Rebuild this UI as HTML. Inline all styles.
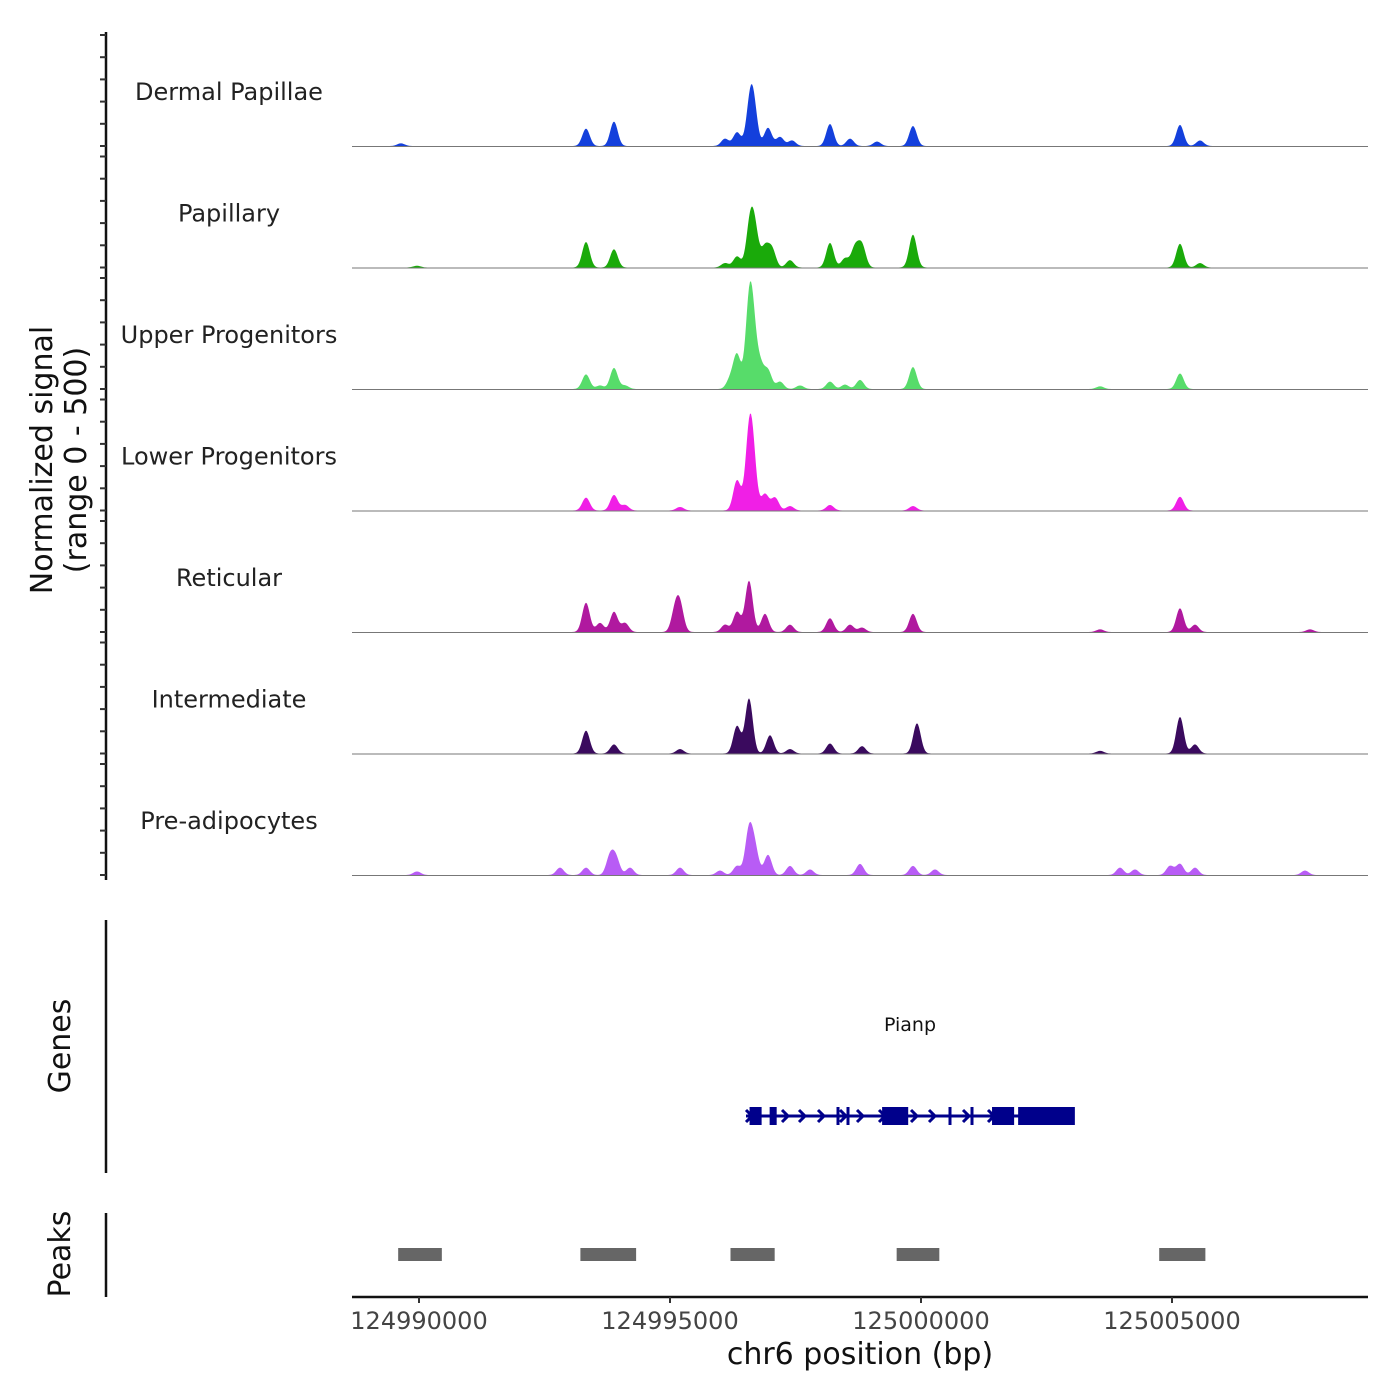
<!DOCTYPE html>
<html><head><meta charset="utf-8"><style>
html,body{margin:0;padding:0;background:#fff;width:1400px;height:1400px;overflow:hidden}
svg{display:block;font-family:"DejaVu Sans","Liberation Sans",sans-serif}
</style></head><body>
<svg id="chart" width="1400" height="1400" viewBox="0 0 1400 1400">
<g id="tracks"></g>
<g id="axes"></g>
<g id="genes"></g>
<g id="peaks"></g>
</svg>
<script>
const trackNames = ["Dermal Papillae","Papillary","Upper Progenitors","Lower Progenitors","Reticular","Intermediate","Pre-adipocytes"];
const trackColors = ["#1440dc","#1aaa0a","#57dc6a","#f01fe6","#b0199f","#3a0a5e","#b85cf5"];
const xTicks = [124990000,124995000,125000000,125005000];
const posDP = [124989641,124993327,124993884,124996096,124996335,124996594,124996673,124996952,124997191,124997430,124998187,124998586,124999123,124999840,125005159,125005558];
const valDP = [12,78,110,33,62,180,140,82,41,25,99,33,20,90,95,25];
const posPA = [124989960,124993327,124993884,124996096,124996335,124996594,124996693,124996892,124997032,124997390,124998187,124998486,124998685,124998825,124999840,125005159,125005558,125013466];
const valPA = [8,115,82,20,50,190,150,90,82,33,111,41,90,99,148,107,20,12];
const posUP = [124993327,124993606,124993884,124994104,124996195,124996335,124996574,124996653,124996793,124996952,124997191,124997590,124998187,124998486,124998785,124999840,125005159,125003566];
const valUP = [66,16,95,16,41,153,330,220,103,82,33,16,33,20,41,99,70,12];
const posLP = [124993327,124993884,124994104,124995199,124996335,124996574,124996653,124996892,124997092,124997390,124998187,124999840,125005159];
const valLP = [58,70,25,16,136,300,200,74,58,20,25,20,62];
const posRE = [124993327,124993606,124993884,124994104,124995100,124995199,124996096,124996335,124996574,124996892,124997390,124998187,124998586,124998825,124999840,125005159,125005458,125007749,125003566];
const valRE = [132,41,91,41,91,115,33,91,231,82,33,62,33,20,82,107,33,12,12];
const posIN = [124993327,124993884,124995199,124996335,124996574,124996992,124997390,124998187,124998825,124999920,125005159,125005458,125003566];
const valIN = [103,41,20,124,248,82,20,45,33,136,165,41,12];
const posPR = [124989960,124992809,124993327,124993805,124993924,124994203,124995199,124995996,124996335,124996574,124996693,124996952,124997390,124997789,124998785,124999840,125000279,125003964,125004263,125004960,125005159,125005458,125007649];
const valPR = [16,33,33,83,74,33,33,20,41,200,110,91,41,25,50,41,25,33,25,41,50,33,20];
const posList = [posDP,posPA,posUP,posLP,posRE,posIN,posPR];
const valList = [valDP,valPA,valUP,valLP,valRE,valIN,valPR];
const exonStarts = [124996585,124996985,124999225,125001415,125001935];
const exonEnds   = [124996825,124997125,124999745,125001855,125003065];
const peakStarts = [124989585,124993215,124996205,124999515,125004745];
const peakEnds   = [124990455,124994325,124997085,125000365,125005665];

const NS="http://www.w3.org/2000/svg";
const X0=352,X1=1368;
function xs(bp){return 419+(bp-124990000)*251/5000;}
function bpx(px){return 124990000+(px-419)*5000/251;}
const trackTop=35, trackStep=121.5, trackH=111;
function baseY(i){return trackTop+trackH+i*trackStep;}
function ys(i,v){return baseY(i)-v/500*trackH;}
function mk(tag,attrs,parent){const e=document.createElementNS(NS,tag);for(const k in attrs)e.setAttribute(k,attrs[k]);parent.appendChild(e);return e;}

const gT=document.getElementById('tracks');
for(let i=0;i<7;i++){
  const pos=posList[i],val=valList[i];
  let d=`M${X0},${baseY(i)}`;
  for(let px=X0;px<=X1;px+=1){
    const bp=bpx(px);let s=0;
    for(let k=0;k<pos.length;k++){const z=(bp-pos[k])/75;s+=val[k]*Math.exp(-z*z/2);}
    d+=`L${px},${ys(i,Math.min(s,500)).toFixed(2)}`;
  }
  d+=`L${X1},${baseY(i)}Z`;
  const p=mk('path',{d:d,fill:trackColors[i]},gT);
  
  
  const bl=mk('line',{x1:X0,x2:X1,y1:baseY(i)+0.5,y2:baseY(i)+0.5,stroke:'#777','stroke-width':1},gT);
  
  
  const t=mk('text',{x:229,y:baseY(i)-46,'text-anchor':'middle','font-size':24,fill:'#222'},gT);
  t.textContent=trackNames[i];
  
  
}
const gA=document.getElementById('axes');
let l=mk('line',{x1:106,x2:106,y1:32,y2:880,stroke:'#111','stroke-width':2.5},gA);


for(let i=0;i<7;i++){for(let k=0;k<=5;k++){const y=baseY(i)-k*trackH/5;
  const tk=mk('line',{x1:100,x2:106,y1:y,y2:y,stroke:'#333','stroke-width':2},gA);
  
  }}
let yt=mk('text',{x:0,y:0,'text-anchor':'middle','font-size':30,fill:'#111',transform:'translate(52,460) rotate(-90)'},gA);
yt.textContent='Normalized signal';


yt=mk('text',{x:0,y:0,'text-anchor':'middle','font-size':30,fill:'#111',transform:'translate(86,460) rotate(-90)'},gA);
yt.textContent='(range 0 - 500)';


l=mk('line',{x1:106,x2:106,y1:920,y2:1173,stroke:'#111','stroke-width':2.5},gA);


yt=mk('text',{x:0,y:0,'text-anchor':'middle','font-size':30,fill:'#111',transform:'translate(70,1046) rotate(-90)'},gA);
yt.textContent='Genes';


l=mk('line',{x1:106,x2:106,y1:1213,y2:1297,stroke:'#111','stroke-width':2.5},gA);


yt=mk('text',{x:0,y:0,'text-anchor':'middle','font-size':30,fill:'#111',transform:'translate(70,1254) rotate(-90)'},gA);
yt.textContent='Peaks';


l=mk('line',{x1:X0,x2:X1,y1:1297,y2:1297,stroke:'#111','stroke-width':2.5},gA);


xTicks.forEach(v=>{const x=xs(v);
  const tk=mk('line',{x1:x,x2:x,y1:1297,y2:1303,stroke:'#333','stroke-width':2},gA);
  
  
  const tl=mk('text',{x:x,y:1329,'text-anchor':'middle','font-size':24,fill:'#444'},gA);
  tl.textContent=String(v);
  
  });
yt=mk('text',{x:860,y:1364,'text-anchor':'middle','font-size':30,fill:'#111'},gA);
yt.textContent='chr6 position (bp)';



const gG=document.getElementById('genes');
const gc='#00008b';
l=mk('line',{x1:746,x2:1072,y1:1116,y2:1116,stroke:gc,'stroke-width':3},gG);


for(let k=0;k<exonStarts.length;k++){
  const r=mk('rect',{x:xs(exonStarts[k]),y:1107,width:xs(exonEnds[k])-xs(exonStarts[k]),height:18,fill:gc},gG);
  
  
}
[838,848,950,972].forEach(x=>{const r=mk('rect',{x:x-1.5,y:1107,width:3,height:18,fill:gc},gG);
  
  });
[750,786,803,822,844,861,883,915,933,967,992].forEach(x=>{const c=mk('path',{d:`M${x-4},${1110}L${x+2},${1116}L${x-4},${1122}`,fill:'none',stroke:gc,'stroke-width':3},gG);
  
  });
yt=mk('text',{x:910,y:1031,'text-anchor':'middle','font-size':19,fill:'#111'},gG);
yt.textContent='Pianp';



const gP=document.getElementById('peaks');
for(let k=0;k<peakStarts.length;k++){
  const r=mk('rect',{x:xs(peakStarts[k]),y:1248,width:xs(peakEnds[k])-xs(peakStarts[k]),height:13,fill:'#666'},gP);
  
  
}
</script>
</body></html>
